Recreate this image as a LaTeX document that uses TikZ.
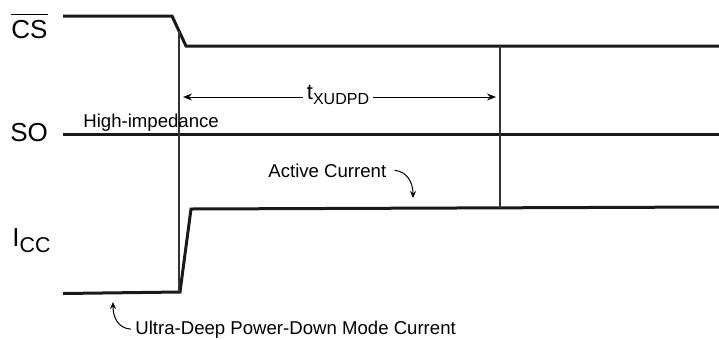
\documentclass[tikz,border=0pt]{standalone}
\usepackage{fontspec}
\setmainfont{Liberation Sans}
\usepackage{tikz}
\usetikzlibrary{arrows.meta}
\tikzstyle{wave} = [line width=1.5pt, line join=miter, black!90]
\tikzstyle{guide} = [line width=0.6pt, black!80]
\tikzstyle{dimarrow} = [line width=0.5pt, -{Stealth[length=4.5pt,width=3.5pt,inset=1.5pt]}]
\tikzstyle{notearrow} = [line width=0.5pt, -{Stealth[length=3.5pt,width=3pt,inset=1.2pt]}]
\tikzstyle{pinname} = [anchor=base west, inner sep=0pt, font=\fontsize{13}{15}\selectfont]
\tikzstyle{note} = [anchor=base west, inner sep=0pt, font=\fontsize{9.3}{11}\selectfont]
\newcommand{\barsig}[1]{\setbox0\hbox{#1}\rlap{\rule[\dimexpr\ht0+2.2pt\relax]{\wd0}{0.9pt}}#1}

\begin{document}
\begin{tikzpicture}[x=0.5pt, y=-0.5pt]
\useasboundingbox (0,0) rectangle (719,339);
% signal names
\node (cs) [pinname] at (11,38) {\barsig{CS}};
\node (so) [pinname] at (10,141) {SO};
\node (icc) [pinname] at (12,246) {I\raisebox{-3pt}{\fontsize{10.7}{12}\selectfont CC}};
% waveforms
\draw [wave] (63,16) -- (172,16) -- (186,46) -- (719,46);
\draw [wave] (63,134.5) -- (719,134.5);
\draw [wave] (63,293.5) -- (180,292) -- (191,209) -- (719,207);
% timing guides
\coordinate (fall) at (179,31);
\coordinate (low) at (179,292);
\coordinate (stop) at (500,46);
\coordinate (high) at (500,208);
\draw [guide] (fall) -- (low);
\draw [guide] (stop) -- (high);
% t_XUDPD
\coordinate (t1) at (179,97);
\coordinate (t2) at (500,97);
\node (tx) [inner sep=2pt] at (338,95) {\fontsize{11}{12}\selectfont t\raisebox{-2.5pt}{\fontsize{8}{9}\selectfont XUDPD}};
\draw [dimarrow, shorten >=2pt] (tx.west |- t1) -- (t1);
\draw [dimarrow, shorten >=2pt] (tx.east |- t2) -- (t2);
% notes
\node (hiz) [note] at (83,127) {High-impedance};
\node (act) [note] at (268,177) {Active Current};
\node (udpd) [note] at (135,334) {Ultra-Deep Power-Down Mode Current};
\coordinate (actend) at (413,198);
\coordinate (udpdend) at (113,302);
\draw [notearrow] ([xshift=4pt]act.east) .. controls +(12,1) and +(0,-16) .. (actend);
\draw [notearrow] ([xshift=-2pt]udpd.west) .. controls +(-14,-1) and +(0,14) .. (udpdend);
\end{tikzpicture}
\end{document}
